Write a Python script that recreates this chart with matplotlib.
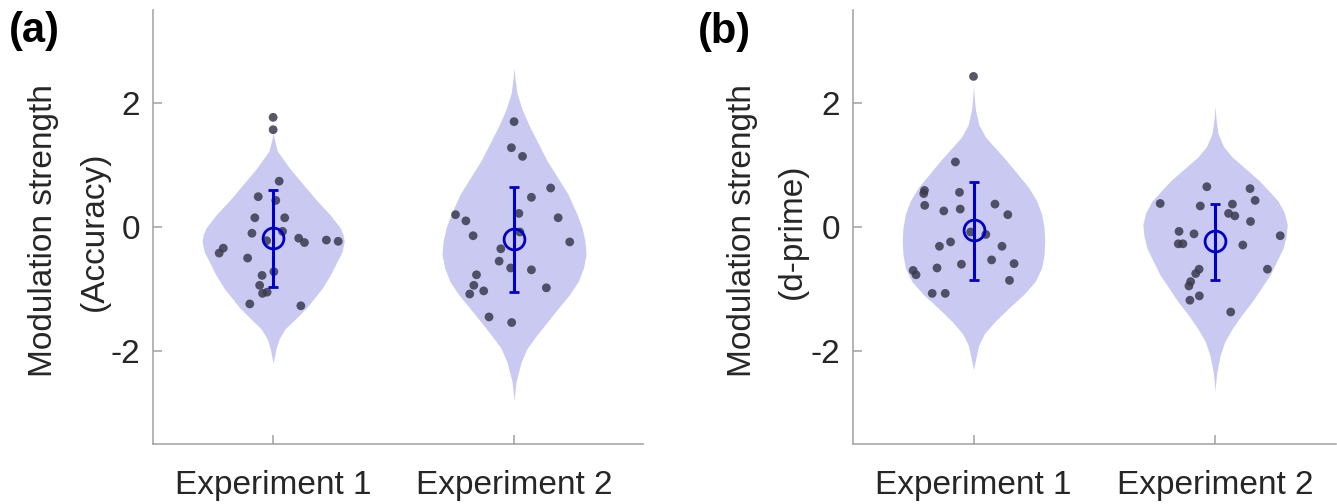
import numpy as np
import matplotlib.pyplot as plt

plt.rcParams['font.family'] = ['Liberation Sans', 'DejaVu Sans']

categorias = ['Experiment 1', 'Experiment 2']

# pontos individuais: deslocamento horizontal (jitter) e valor
a1_x = [0, 0, 0.025, -0.062, 0.011, 0.048, -0.076, -0.088, 0.039, -0.027, 0.106, 0.130,
        0.221, 0.270, -0.207, -0.224, -0.106, 0.003, -0.046, -0.056, -0.044, -0.025, -0.097, 0.115]
a1_y = [1.77, 1.57, 0.74, 0.49, 0.43, 0.15, 0.15, -0.10, -0.07, -0.22, -0.18, -0.25,
        -0.21, -0.23, -0.34, -0.42, -0.50, -0.72, -0.78, -0.94, -1.07, -1.05, -1.24, -1.27]
a2_x = [0.0, -0.011, 0.035, 0.152, 0.072, 0.020, -0.243, -0.200, 0.183, -0.170, 0.024, 0.231,
        -0.055, -0.062, -0.014, 0.072, -0.156, -0.167, -0.126, -0.184, 0.134, -0.104, -0.010]
a2_y = [1.70, 1.28, 1.14, 0.63, 0.48, 0.22, 0.20, 0.10, 0.15, -0.14, -0.08, -0.24,
        -0.35, -0.55, -0.66, -0.69, -0.77, -0.94, -1.03, -1.08, -0.98, -1.45, -1.54]
b1_x = [0, -0.075, -0.203, -0.206, -0.058, -0.202, -0.123, -0.055, 0.089, 0.142, -0.012, 0.051,
        -0.095, -0.141, 0.118, 0.075, 0.168, -0.050, -0.151, -0.250, -0.238, 0.149, -0.171, -0.117]
b1_y = [2.43, 1.05, 0.59, 0.54, 0.56, 0.35, 0.26, 0.29, 0.37, 0.20, -0.08, -0.12,
        -0.24, -0.31, -0.31, -0.53, -0.59, -0.60, -0.66, -0.70, -0.77, -0.86, -1.07, -1.07]
b2_x = [-0.034, 0.145, 0.166, -0.227, -0.061, 0.072, 0.056, 0.082, 0.147, -0.149, -0.087, 0.270,
        -0.152, -0.133, 0.115, 0.217, -0.066, -0.080, -0.101, -0.108, -0.065, -0.104, 0.065]
b2_y = [0.65, 0.62, 0.43, 0.38, 0.34, 0.37, 0.22, 0.18, 0.09, -0.07, -0.11, -0.14,
        -0.27, -0.27, -0.29, -0.68, -0.68, -0.75, -0.88, -0.95, -1.11, -1.18, -1.37]

# contorno dos violinos: nivel y e meia-largura
va1_y = [1.51, 1.40, 1.23, 0.96, 0.69, 0.42, 0.20, -0.01, -0.12, -0.23, -0.40, -0.55, -0.77,
         -0.99, -1.31, -1.50, -1.64, -1.80, -1.96, -2.2]
va1_w = [0.0, 0.006, 0.017, 0.066, 0.124, 0.183, 0.236, 0.278, 0.290, 0.295, 0.286, 0.266, 0.238,
         0.203, 0.137, 0.088, 0.050, 0.025, 0.012, 0.0]
va2_y = [2.57, 2.40, 2.16, 1.90, 1.61, 1.07, 0.53, 0.20, -0.01, -0.22, -0.44, -0.66, -0.88,
         -1.10, -1.31, -1.74, -1.95, -2.18, -2.5, -2.8]
va2_w = [0.0, 0.004, 0.012, 0.033, 0.066, 0.137, 0.224, 0.262, 0.282, 0.294, 0.299, 0.288, 0.266,
         0.228, 0.183, 0.095, 0.055, 0.029, 0.008, 0.0]
vb1_y = [2.27, 2.10, 1.89, 1.65, 1.45, 1.07, 0.64, 0.42, 0.21, -0.01, -0.23, -0.45, -0.66,
         -0.88, -1.09, -1.31, -1.53, -1.72, -1.91, -2.3]
vb1_w = [0.0, 0.003, 0.008, 0.022, 0.050, 0.137, 0.228, 0.262, 0.282, 0.292, 0.295, 0.292, 0.282,
         0.255, 0.207, 0.145, 0.087, 0.045, 0.021, 0.0]
vb2_y = [1.95, 1.75, 1.51, 1.30, 1.13, 0.75, 0.42, 0.23, 0.04, -0.15, -0.34, -0.77, -1.20,
         -1.42, -1.64, -1.85, -2.07, -2.35, -2.64]
vb2_w = [0.0, 0.004, 0.012, 0.035, 0.071, 0.183, 0.261, 0.287, 0.299, 0.294, 0.282, 0.228, 0.154,
         0.110, 0.071, 0.040, 0.021, 0.007, 0.0]

# media e limites da barra de erro
media_a = [-0.17, -0.20]
sup_a = [0.60, 0.65]
inf_a = [-0.96, -1.05]
media_b = [-0.05, -0.23]
sup_b = [0.72, 0.37]
inf_b = [-0.85, -0.85]

cor_violino = '#c9c9f1'
cor_ponto = '#3a3a4c'
cor_erro = '#0000c8'
cor_eixo = '#a0a0a0'

fig = plt.figure(figsize=(13.37, 5.04), dpi=100)
ax1 = fig.add_axes([0.1142, 0.119, 0.3667, 0.861])
ax2 = fig.add_axes([0.6378, 0.119, 0.3613, 0.861])


def desenha(ax, violinos, pontos, media, sup, inf, rotulo, xlim, xrot):
    for k, (vy, vw) in enumerate(violinos):
        c = k + 1
        vy = np.array(vy)
        vw = np.array(vw)
        ax.fill_betweenx(vy, c - vw, c + vw, color=cor_violino, lw=0, zorder=1)
    for k, (px, py) in enumerate(pontos):
        ax.scatter(np.array(px) + k + 1, py, s=40, color=cor_ponto, alpha=0.85,
                   edgecolors='none', zorder=2)
    pos = np.array([1, 2])
    media = np.array(media)
    err = [media - np.array(inf), np.array(sup) - media]
    ax.errorbar(pos, media, yerr=err, fmt='o', color=cor_erro, mfc='none',
                ms=15, mew=2, elinewidth=2.2, capsize=3.5, capthick=2.2, zorder=3)
    ax.set_xlim(*xlim)
    ax.set_ylim(-3.5, 3.5)
    ax.set_xticks(pos)
    ax.set_xticklabels(categorias)
    ax.set_yticks([-2, 0, 2])
    ax.set_yticklabels(['-2', '0', '2'])
    for s in ['top', 'right']:
        ax.spines[s].set_visible(False)
    for s in ['left', 'bottom']:
        ax.spines[s].set_color(cor_eixo)
        ax.spines[s].set_linewidth(1.1)
    ax.tick_params(direction='in', length=6.5, width=1.1, color=cor_eixo,
                   labelsize=24, labelcolor='#262626')
    ax.tick_params(axis='x', pad=19)
    ax.tick_params(axis='y', pad=9)
    ax.set_ylabel(rotulo, fontsize=24, color='#262626', linespacing=1.8)
    ax.yaxis.set_label_coords(xrot, 0.491)


desenha(ax1, [(va1_y, va1_w), (va2_y, va2_w)], [(a1_x, a1_y), (a2_x, a2_y)],
        media_a, sup_a, inf_a, 'Modulation strength\n(Accuracy)', (0.5, 2.535), -0.088)
desenha(ax2, [(vb1_y, vb1_w), (vb2_y, vb2_w)], [(b1_x, b1_y), (b2_x, b2_y)],
        media_b, sup_b, inf_b, 'Modulation strength\n(d-prime)', (0.5, 2.5), -0.092)

fig.text(0.026, 0.938, '(a)', fontsize=30, fontweight='bold', ha='center', va='center')
fig.text(0.542, 0.937, '(b)', fontsize=30, fontweight='bold', ha='center', va='center')

fig.savefig('out.png', dpi=100)
